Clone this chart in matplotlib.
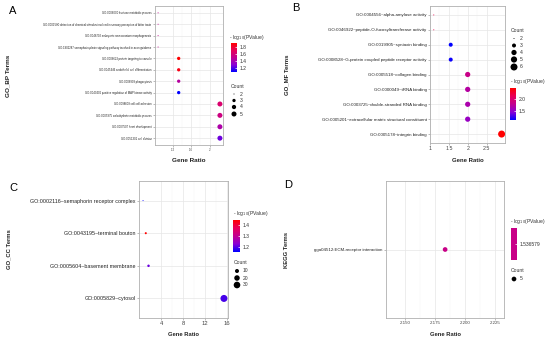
import numpy as np
import matplotlib
matplotlib.use("Agg")
import matplotlib.pyplot as plt
from matplotlib.colors import LinearSegmentedColormap, ListedColormap, Normalize
from matplotlib.cm import ScalarMappable

plt.rcParams['font.family'] = ['Liberation Sans', 'DejaVu Sans']

# ---------------- data ----------------
A_terms = [
    "GO:0006000 fructose metabolic process",
    "GO:0001580 detection of chemical stimulus involved in sensory perception of bitter taste",
    "GO:0048702 embryonic neurocranium morphogenesis",
    "GO:1902287 semaphorin-plexin signaling pathway involved in axon guidance",
    "GO:0006623 protein targeting to vacuole",
    "GO:0045446 endothelial cell differentiation",
    "GO:0006909 phagocytosis",
    "GO:0043406 positive regulation of MAP kinase activity",
    "GO:0098609 cell-cell adhesion",
    "GO:0005975 carbohydrate metabolic process",
    "GO:0007507 heart development",
    "GO:0051301 cell division",
]
A_ratio = [0.889, 0.889, 0.889, 0.889, 1.333, 1.333, 1.333, 1.333, 2.222, 2.222, 2.222, 2.222]
A_count = [2, 2, 2, 2, 3, 3, 3, 3, 5, 5, 5, 5]
A_logp = [1.5, 1.5, 1.5, 1.5, 1.90, 1.85, 1.45, 1.09, 1.62, 1.55, 1.42, 1.25]
A_cticks = [1.2, 1.4, 1.6, 1.8]
A_sizeticks = [2, 3, 4, 5]
A_xticks = [1.2, 1.6, 2.0]

B_terms = [
    "GO:0004556~alpha-amylase activity",
    "GO:0046922~peptide-O-fucosyltransferase activity",
    "GO:0019905~syntaxin binding",
    "GO:0008528~G-protein coupled peptide receptor activity",
    "GO:0005518~collagen binding",
    "GO:0000049~tRNA binding",
    "GO:0003725~double-stranded RNA binding",
    "GO:0005201~extracellular matrix structural constituent",
    "GO:0005178~integrin binding",
]
B_ratio = [1.1, 1.1, 1.55, 1.55, 2.0, 2.0, 2.0, 2.0, 2.9]
B_count = [2, 2, 3, 3, 4, 4, 4, 4, 6]
B_logp = [2.2, 2.2, 1.12, 1.15, 1.85, 1.72, 1.66, 1.55, 2.48]
B_cticks = [1.5, 2.0]
B_sizeticks = [2, 3, 4, 5, 6]
B_xticks = [1.0, 1.5, 2.0, 2.5]

C_terms = [
    "GO:0002116~semaphorin receptor complex",
    "GO:0043195~terminal bouton",
    "GO:0005604~basement membrane",
    "GO:0005829~cytosol",
]
C_ratio = [0.68, 1.18, 1.68, 15.45]
C_count = [2, 3, 4, 34]
C_logp = [1.153, 1.447, 1.21, 1.19]
C_cticks = [1.2, 1.3, 1.4]
C_sizeticks = [10, 20, 30]
C_xticks = [4, 8, 12, 16]

D_terms = ["gga04512:ECM-receptor interaction"]
D_ratio = [2.1834]
D_count = [5]
D_logp = [1.536579]
D_sizeticks = [5]
D_xticks = [2.150, 2.175, 2.200, 2.225]

# ---------------- style ----------------
W, H = 550, 342
fig = plt.figure(figsize=(W / 100, H / 100), dpi=100)
fig.patch.set_facecolor("white")

cmap = LinearSegmentedColormap.from_list(
    "bluered", [(0, "#0000FF"), (0.25, "#8A00D4"), (0.5, "#C2008F"), (0.75, "#E80058"), (1, "#FF0000")])


def px_axes(x0, y0, x1, y1):
    return fig.add_axes([x0 / W, 1 - y1 / H, (x1 - x0) / W, (y1 - y0) / H])


def size_map(c, cmin, cmax, dmin, dmax):
    c = np.asarray(c, dtype=float)
    if cmax == cmin:
        d = np.full_like(c, dmax)
    else:
        d = dmin + (dmax - dmin) * np.sqrt(np.clip((c - cmin) / (cmax - cmin), 0, 1))
    return (d * 0.72) ** 2


def panel(box, terms, ratio, count, logp, xticks, xlim, label_fs, tick_fs,
          dmin, dmax, cmin, cmax, vmin, vmax, ylabel, ylabel_x, xlabel_y, title_fs):
    ax = px_axes(*box)
    n = len(terms)
    y = [n - 1 - i for i in range(n)]
    s = size_map(count, cmin, cmax, dmin, dmax)
    ax.scatter(ratio, y, s=s, c=logp, cmap=cmap, vmin=vmin, vmax=vmax,
               edgecolors="none", zorder=3)
    ax.set_yticks(y)
    ax.set_yticklabels(terms, fontsize=label_fs, color="#222222")
    ax.set_ylim(-0.6, n - 0.4)
    ax.set_xlim(*xlim)
    ax.set_xticks(xticks)
    ax.set_xticklabels(["%g" % t for t in xticks], fontsize=tick_fs, color="#444444")
    ax.set_xticks([(a + b) / 2 for a, b in zip(xticks[:-1], xticks[1:])], minor=True)
    ax.grid(True, which="major", color="#e6e6e6", lw=0.5, zorder=0)
    ax.grid(True, which="minor", axis="x", color="#f2f2f2", lw=0.3, zorder=0)
    ax.set_axisbelow(True)
    for sp in ax.spines.values():
        sp.set_color("#b0b0b0")
        sp.set_linewidth(0.6)
    ax.tick_params(axis="both", which="major", length=1.5, width=0.4, color="#888888", pad=1)
    ax.tick_params(axis="x", which="minor", length=0)
    xc = (box[0] + box[2]) / 2
    fig.text(xc / W, 1 - xlabel_y / H, "Gene Ratio", ha="center", va="center",
             fontsize=title_fs, fontweight="bold", color="#222222")
    yc = (box[1] + box[3]) / 2
    fig.text(ylabel_x / W, 1 - yc / H, ylabel, ha="center", va="center", rotation=90,
             fontsize=title_fs, fontweight="bold", color="#222222")
    return ax


def colorbar(box, vmin, vmax, ticks, title_xy, fs, ticklabels=None, cm=None):
    cax = px_axes(*box)
    sm = ScalarMappable(norm=Normalize(vmin, vmax), cmap=cm if cm is not None else cmap)
    cb = fig.colorbar(sm, cax=cax)
    cb.outline.set_visible(False)
    cb.set_ticks(ticks)
    if ticklabels is not None:
        cb.set_ticklabels(ticklabels)
    cax.tick_params(length=1.5, width=0.5, color="white", direction="in", labelsize=fs,
                    labelcolor="#333333", pad=2)
    fig.text(title_xy[0] / W, 1 - title_xy[1] / H, r"- log$_{10}$(PValue)", ha="left",
             va="center", fontsize=fs, color="#333333")


def size_legend(x, ys, counts, cmin, cmax, dmin, dmax, title_y, fs):
    lax = fig.add_axes([0, 0, 1, 1], facecolor="none")
    lax.set_xlim(0, W)
    lax.set_ylim(H, 0)
    lax.axis("off")
    s = size_map(counts, cmin, cmax, dmin, dmax)
    lax.scatter([x] * len(counts), ys, s=s, c="black", edgecolors="none")
    for yy, c in zip(ys, counts):
        lax.text(x + 6, yy, str(c), fontsize=fs, va="center", ha="left", color="#333333")
    lax.text(x - 3, title_y, "Count", fontsize=fs, va="center", ha="left", color="#333333")


def exp5(vals):
    lo, hi = min(vals), max(vals)
    r = hi - lo
    return (lo - 0.05 * r, hi + 0.05 * r)


# ---------------- Panel A ----------------
panel((155, 6, 223, 145), A_terms, A_ratio, A_count, A_logp, A_xticks, exp5(A_ratio),
      2.0, 2.2, 1.0, 5.0, min(A_count), max(A_count), 1.09, 1.90,
      "GO_BP Terms", 8, 160, 4.6)
fig.text(13 / W, 1 - 11 / H, "A", fontsize=8, ha="center", va="center")
colorbar((231, 43, 237, 72), 1.09, 1.90, A_cticks, (229, 37), 3.6)
size_legend(234, [94, 100.5, 107, 114], A_sizeticks, min(A_count), max(A_count), 1.0, 5.0, 86, 3.6)

# ---------------- Panel B ----------------
panel((430, 6, 505, 143), B_terms, B_ratio, B_count, B_logp, B_xticks, exp5(B_ratio),
      3.2, 3.8, 1.0, 7.0, min(B_count), max(B_count), 1.12, 2.48,
      "GO_MF Terms", 287, 160, 4.3)
fig.text(296 / W, 1 - 8 / H, "B", fontsize=8, ha="center", va="center")
size_legend(514, [38.5, 45.5, 52.5, 59.5, 67], B_sizeticks, min(B_count), max(B_count), 1.0, 7.0, 31, 3.6)
colorbar((510, 88, 516, 120), 1.12, 2.48, B_cticks, (510, 82), 3.6)

# ---------------- Panel C ----------------
panel((139, 181, 228, 318), C_terms, C_ratio, C_count, C_logp, C_xticks, exp5(C_ratio),
      3.9, 4.2, 1.0, 7.0, min(C_count), max(C_count), 1.153, 1.447,
      "GO_CC Terms", 9, 335, 4.2)
fig.text(13 / W, 1 - 188 / H, "C", fontsize=8, ha="center", va="center")
colorbar((233, 220, 240, 252), 1.153, 1.447, C_cticks, (233, 214), 3.6)
size_legend(237, [271, 278, 285], C_sizeticks, min(C_count), max(C_count), 1.0, 7.0, 263, 3.6)

# ---------------- Panel D ----------------
D_norm_color = cmap(Normalize(1.0, 2.0)(D_logp[0]))
axd = panel((386, 181, 504, 318), D_terms, D_ratio, D_count, D_logp, D_xticks,
            (D_ratio[0] - 0.0494, D_ratio[0] + 0.0492),
            3.2, 3.2, 4.7, 4.7, min(D_count), max(D_count), 1.0, 2.0,
            "KEGG Terms", 287, 335, 4.2)
axd.set_xticklabels(["%.3f" % t for t in D_xticks], fontsize=3.2, color="#444444")
fig.text(288 / W, 1 - 185 / H, "D", fontsize=8, ha="center", va="center")
colorbar((511, 228, 517, 260), D_logp[0] - 0.5, D_logp[0] + 0.5, [D_logp[0]], (510, 222), 3.6,
         ticklabels=["%.6f" % D_logp[0]], cm=ListedColormap([D_norm_color]))
size_legend(514, [279], D_sizeticks, 0, max(D_count), 4.7, 4.7, 271, 3.6)

fig.savefig("out.png", dpi=100, facecolor="white")
